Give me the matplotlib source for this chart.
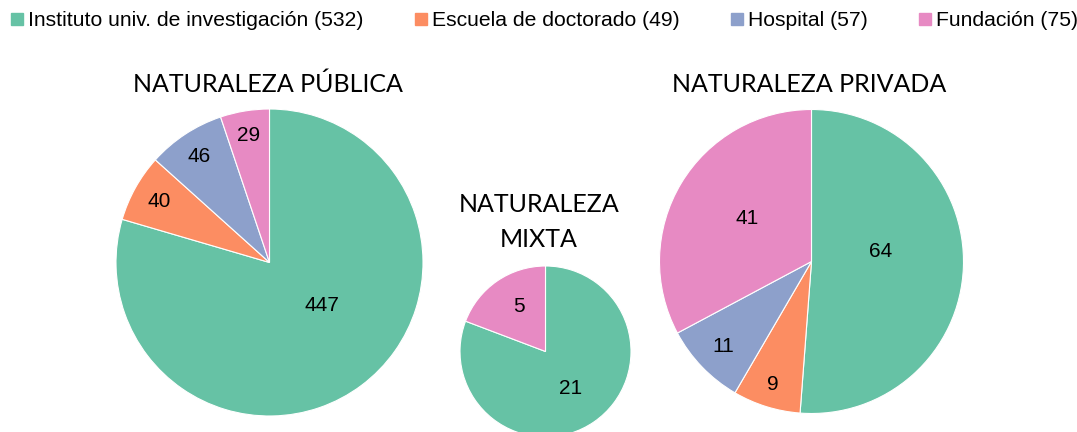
import matplotlib
matplotlib.use("Agg")
import matplotlib.pyplot as plt
import numpy as np
from matplotlib.lines import Line2D

categories = ["Instituto univ. de investigación", "Escuela de doctorado", "Hospital", "Fundación"]
publica = [447, 40, 46, 29]
mixta = [21, 0, 0, 5]
privada = [64, 9, 11, 41]
titles = ["NATURALEZA PÚBLICA", "NATURALEZA\nMIXTA", "NATURALEZA PRIVADA"]
colors = ["#66c2a5", "#fc8d62", "#8da0cb", "#e78ac3"]

totals = [a + b + c for a, b, c in zip(publica, mixta, privada)]

W, H = 1077, 432
fig = plt.figure(figsize=(W / 100, H / 100), dpi=100)
ax = fig.add_axes([0, 0, 1, 1])
ax.set_xlim(0, W)
ax.set_ylim(0, H)
ax.set_aspect("equal")
ax.axis("off")

# layout (pixel units): center x, center y (from bottom), radius, title position
layout = [
    dict(cx=269.5, cy=H - 262.5, r=153.5, tx=268, ty=H - 84),
    dict(cx=545.5, cy=H - 351.5, r=85.5, tx=539, ty=H - 222),
    dict(cx=811.5, cy=H - 261.5, r=152.0, tx=809, ty=H - 84),
]
# label placement style (distance fraction of radius, angle offset in deg)
label_style = [
    [(0.44, 13.5), (0.82, 0), (0.83, 0), (0.84, 0)],
    [(0.52, 0), None, None, (0.61, -3.6)],
    [(0.46, 10), (0.85, 0), (0.81, 0), (0.51, -3)],
]

title_font = dict(family=["Lato", "DejaVu Sans"], fontsize=18)
lab_font = dict(family=["Liberation Sans", "DejaVu Sans"], fontsize=15)

for vals, lay, sty, title in zip([publica, mixta, privada], layout, label_style, titles):
    idx = [i for i, v in enumerate(vals) if v > 0]
    v = [vals[i] for i in idx]
    c = [colors[i] for i in idx]
    wedges, _ = ax.pie(v, colors=c, startangle=90, counterclock=False,
                       center=(lay["cx"], lay["cy"]), radius=lay["r"],
                       wedgeprops=dict(edgecolor="white", linewidth=0.8))
    for w, i, val in zip(wedges, idx, v):
        d, off = sty[i]
        th = np.deg2rad((w.theta1 + w.theta2) / 2 + off)
        ax.text(lay["cx"] + d * lay["r"] * np.cos(th), lay["cy"] + d * lay["r"] * np.sin(th),
                str(val), ha="center", va="center", color="black", **lab_font)
    ax.text(lay["tx"], lay["ty"], title, ha="center", va="center",
            linespacing=1.6, color="black", **title_font)

ax.set_xlim(0, W)
ax.set_ylim(0, H)

handles = [Line2D([], [], marker="s", linestyle="none", markersize=8.2,
                  markerfacecolor=col, markeredgecolor=col) for col in colors]
labels = [f"{cat} ({t})" for cat, t in zip(categories, totals)]
fig.legend(handles, labels, loc="center left", bbox_to_anchor=(11 / W, 1 - 21 / H), ncol=4,
           frameon=False, handlelength=0.58, handletextpad=0.24, columnspacing=2.42,
           borderpad=0, prop=dict(family="Liberation Sans", size=15.2), borderaxespad=0)

fig.savefig("out.png", dpi=100)
